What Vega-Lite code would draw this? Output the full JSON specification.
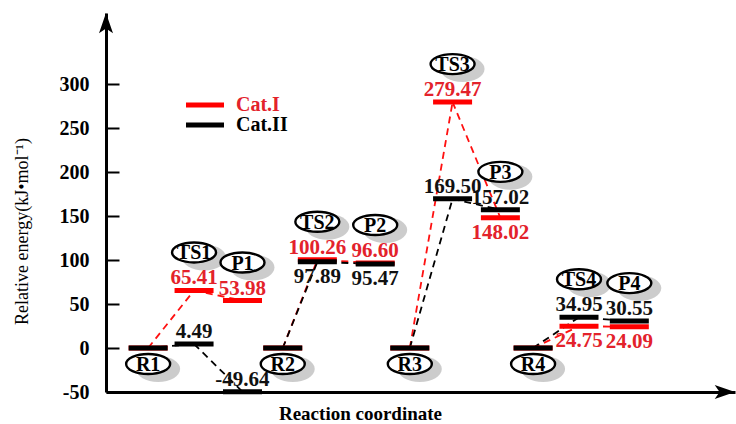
{
  "$schema": "https://vega.github.io/schema/vega-lite/v6.json",
  "width": 629,
  "height": 379,
  "autosize": "none",
  "padding": {"left": 106, "top": 13, "right": 1, "bottom": 32},
  "background": "white",
  "config": {
    "view": {"stroke": null},
    "font": "Liberation Serif",
    "locale": {
      "number": {"decimal": ".", "thousands": ",", "grouping": [3], "currency": ["$", ""], "minus": "-"}
    }
  },
  "datasets": {
    "levels": [
      {"id": "I-R1", "state": "R1", "series": "Cat.I", "pos": 6.7, "energy": 0, "place": "none"},
      {"id": "I-TS1", "state": "TS1", "series": "Cat.I", "pos": 14.0, "energy": 65.41, "place": "above"},
      {"id": "I-P1", "state": "P1", "series": "Cat.I", "pos": 21.7, "energy": 53.98, "place": "above"},
      {"id": "I-R2", "state": "R2", "series": "Cat.I", "pos": 28.1, "energy": 0, "place": "none"},
      {"id": "I-TS2", "state": "TS2", "series": "Cat.I", "pos": 33.6, "energy": 100.26, "place": "above"},
      {"id": "I-P2", "state": "P2", "series": "Cat.I", "pos": 42.8, "energy": 96.60, "place": "above"},
      {"id": "I-R3", "state": "R3", "series": "Cat.I", "pos": 48.3, "energy": 0, "place": "none"},
      {"id": "I-TS3", "state": "TS3", "series": "Cat.I", "pos": 55.1, "energy": 279.47, "place": "above"},
      {"id": "I-P3", "state": "P3", "series": "Cat.I", "pos": 62.7, "energy": 148.02, "place": "below"},
      {"id": "I-R4", "state": "R4", "series": "Cat.I", "pos": 67.9, "energy": 0, "place": "none"},
      {"id": "I-TS4", "state": "TS4", "series": "Cat.I", "pos": 75.2, "energy": 24.75, "place": "below"},
      {"id": "I-P4", "state": "P4", "series": "Cat.I", "pos": 83.2, "energy": 24.09, "place": "below"},
      {"id": "II-R1", "state": "R1", "series": "Cat.II", "pos": 6.7, "energy": 0, "place": "none"},
      {"id": "II-TS1", "state": "TS1", "series": "Cat.II", "pos": 14.0, "energy": 4.49, "place": "above"},
      {"id": "II-P1", "state": "P1", "series": "Cat.II", "pos": 21.7, "energy": -49.64, "place": "above"},
      {"id": "II-R2", "state": "R2", "series": "Cat.II", "pos": 28.1, "energy": 0, "place": "none"},
      {"id": "II-TS2", "state": "TS2", "series": "Cat.II", "pos": 33.6, "energy": 97.89, "place": "below"},
      {"id": "II-P2", "state": "P2", "series": "Cat.II", "pos": 42.8, "energy": 95.47, "place": "below"},
      {"id": "II-R3", "state": "R3", "series": "Cat.II", "pos": 48.3, "energy": 0, "place": "none"},
      {"id": "II-TS3", "state": "TS3", "series": "Cat.II", "pos": 55.1, "energy": 169.50, "place": "above"},
      {"id": "II-P3", "state": "P3", "series": "Cat.II", "pos": 62.7, "energy": 157.02, "place": "above"},
      {"id": "II-R4", "state": "R4", "series": "Cat.II", "pos": 67.9, "energy": 0, "place": "none"},
      {"id": "II-TS4", "state": "TS4", "series": "Cat.II", "pos": 75.2, "energy": 34.95, "place": "above"},
      {"id": "II-P4", "state": "P4", "series": "Cat.II", "pos": 83.2, "energy": 30.55, "place": "above"}
    ],
    "links": [
      {"series": "Cat.I", "from": "I-R1", "to": "I-TS1"},
      {"series": "Cat.I", "from": "I-TS1", "to": "I-P1"},
      {"series": "Cat.I", "from": "I-R2", "to": "I-TS2"},
      {"series": "Cat.I", "from": "I-TS2", "to": "I-P2"},
      {"series": "Cat.I", "from": "I-R3", "to": "I-TS3"},
      {"series": "Cat.I", "from": "I-TS3", "to": "I-P3"},
      {"series": "Cat.I", "from": "I-R4", "to": "I-TS4"},
      {"series": "Cat.I", "from": "I-TS4", "to": "I-P4"},
      {"series": "Cat.II", "from": "II-R1", "to": "II-TS1"},
      {"series": "Cat.II", "from": "II-TS1", "to": "II-P1"},
      {"series": "Cat.II", "from": "II-R2", "to": "II-TS2"},
      {"series": "Cat.II", "from": "II-TS2", "to": "II-P2"},
      {"series": "Cat.II", "from": "II-R3", "to": "II-TS3"},
      {"series": "Cat.II", "from": "II-TS3", "to": "II-P3"},
      {"series": "Cat.II", "from": "II-R4", "to": "II-TS4"},
      {"series": "Cat.II", "from": "II-TS4", "to": "II-P4"}
    ]
  },
  "layer": [
    {
      "data": {"name": "links"},
      "transform": [
        {"lookup": "from", "from": {"data": {"name": "levels"}, "key": "id", "fields": ["pos", "energy"]}, "as": ["x_from", "y_from"]},
        {"lookup": "to", "from": {"data": {"name": "levels"}, "key": "id", "fields": ["pos", "energy"]}, "as": ["x_to", "y_to"]}
      ],
      "mark": {"type": "rule", "strokeDash": [7, 5], "strokeWidth": 1.8},
      "encoding": {
        "x": {
          "field": "x_from", "type": "quantitative",
          "scale": {"domain": [0, 100], "nice": false, "zero": false},
          "axis": {
            "labels": false, "ticks": false, "grid": false,
            "domainColor": "black", "domainWidth": 3,
            "title": "Reaction coordinate",
            "titleFont": "Liberation Serif", "titleFontSize": 19, "titleFontWeight": "bold",
            "titleColor": "black", "titleX": 254, "titleY": 21, "titleBaseline": "middle", "titleAlign": "center"
          }
        },
        "x2": {"field": "x_to"},
        "y": {
          "field": "y_from", "type": "quantitative",
          "scale": {"domain": [-50, 380.7], "nice": false, "zero": false},
          "axis": {
            "values": [-50, 0, 50, 100, 150, 200, 250, 300],
            "grid": false,
            "domainColor": "black", "domainWidth": 3,
            "tickColor": "black", "tickWidth": 2, "tickSize": -13,
            "labelPadding": 30,
            "labelFont": "Liberation Serif", "labelFontSize": 20, "labelFontWeight": "bold", "labelColor": "black",
            "title": "Relative energy(kJ•mol⁻¹)",
            "titleFont": "Liberation Serif", "titleFontSize": 18, "titleFontWeight": "normal", "titleColor": "black",
            "titleX": -84, "titleY": 218, "titleAngle": -90, "titleAlign": "center", "titleBaseline": "middle"
          }
        },
        "y2": {"field": "y_to"},
        "stroke": {
          "condition": {"test": "datum.series === 'Cat.I'", "value": "#ff1010"},
          "value": "#000000"
        }
      }
    },
    {
      "data": {"name": "levels"},
      "mark": {"type": "tick", "orient": "horizontal", "size": 39, "thickness": 5, "opacity": 1},
      "encoding": {
        "x": {"field": "pos", "type": "quantitative"},
        "y": {"field": "energy", "type": "quantitative"},
        "color": {
          "field": "series", "type": "nominal",
          "scale": {"domain": ["Cat.I", "Cat.II"], "range": ["#ff0000", "#000000"]},
          "legend": {
            "orient": "none", "legendX": 89, "legendY": 82, "title": null, "padding": 0,
            "symbolType": "M-2.375,-0.3125H2.375V0.3125H-2.375Z", "symbolSize": 256, "symbolStrokeWidth": 0,
            "symbolOpacity": 1,
            "labelFont": "Liberation Serif", "labelFontSize": 20, "labelFontWeight": "bold",
            "labelOffset": 21, "rowPadding": -4,
            "encode": {"labels": {"update": {"fill": {"signal": "datum.value === 'Cat.I' ? '#e3222b' : '#000000'"}}}}
          }
        }
      }
    },
    {
      "data": {"name": "levels"},
      "transform": [
        {"aggregate": [{"op": "max", "field": "energy", "as": "top"}], "groupby": ["state", "pos"]}
      ],
      "mark": {"type": "point", "filled": true, "size": 1936, "fill": "#c6c6c6", "strokeWidth": 0, "opacity": 0.9},
      "encoding": {
        "x": {"field": "pos", "type": "quantitative"},
        "y": {"field": "top", "type": "quantitative"},
        "shape": {
          "condition": {"test": "test(/^R/, datum.state)", "value": "M-0.5455,0.9545A1,0.59,0,1,0,1.4545,0.9545A1,0.59,0,1,0,-0.5455,0.9545Z"},
          "value": "M-0.5455,-1.5A1,0.59,0,1,0,1.4545,-1.5A1,0.59,0,1,0,-0.5455,-1.5Z"
        }
      }
    },
    {
      "data": {"name": "levels"},
      "transform": [
        {"aggregate": [{"op": "max", "field": "energy", "as": "top"}], "groupby": ["state", "pos"]}
      ],
      "mark": {"type": "point", "filled": false, "size": 1936, "fill": "white", "fillOpacity": 1, "stroke": "black", "strokeWidth": 2.4, "opacity": 1},
      "encoding": {
        "x": {"field": "pos", "type": "quantitative"},
        "y": {"field": "top", "type": "quantitative"},
        "shape": {
          "condition": {"test": "test(/^R/, datum.state)", "value": "M-1,0.7273A1,0.4545,0,1,0,1,0.7273A1,0.4545,0,1,0,-1,0.7273Z"},
          "value": "M-1,-1.7273A1,0.4545,0,1,0,1,-1.7273A1,0.4545,0,1,0,-1,-1.7273Z"
        }
      }
    },
    {
      "data": {"name": "levels"},
      "transform": [
        {"aggregate": [{"op": "max", "field": "energy", "as": "top"}], "groupby": ["state", "pos"]},
        {"filter": "test(/^R/, datum.state)"}
      ],
      "mark": {"type": "text", "font": "Liberation Serif", "fontSize": 20, "fontWeight": "bold", "color": "black", "baseline": "middle", "align": "center", "dy": 17},
      "encoding": {
        "x": {"field": "pos", "type": "quantitative"},
        "y": {"field": "top", "type": "quantitative"},
        "text": {"field": "state"}
      }
    },
    {
      "data": {"name": "levels"},
      "transform": [
        {"aggregate": [{"op": "max", "field": "energy", "as": "top"}], "groupby": ["state", "pos"]},
        {"filter": "!test(/^R/, datum.state)"}
      ],
      "mark": {"type": "text", "font": "Liberation Serif", "fontSize": 20, "fontWeight": "bold", "color": "black", "baseline": "middle", "align": "center", "dy": -37},
      "encoding": {
        "x": {"field": "pos", "type": "quantitative"},
        "y": {"field": "top", "type": "quantitative"},
        "text": {"field": "state"}
      }
    },
    {
      "data": {"name": "levels"},
      "transform": [{"filter": "datum.place === 'above'"}],
      "mark": {"type": "text", "font": "Liberation Serif", "fontSize": 21, "fontWeight": "bold", "baseline": "middle", "align": "center", "dy": -12},
      "encoding": {
        "x": {"field": "pos", "type": "quantitative"},
        "y": {"field": "energy", "type": "quantitative"},
        "text": {"field": "energy", "type": "quantitative", "format": ".2f"},
        "fill": {
          "condition": {"test": "datum.series === 'Cat.I'", "value": "#e3222b"},
          "value": "#111111"
        }
      }
    },
    {
      "data": {"name": "levels"},
      "transform": [{"filter": "datum.place === 'below'"}],
      "mark": {"type": "text", "font": "Liberation Serif", "fontSize": 21, "fontWeight": "bold", "baseline": "middle", "align": "center", "dy": 15},
      "encoding": {
        "x": {"field": "pos", "type": "quantitative"},
        "y": {"field": "energy", "type": "quantitative"},
        "text": {"field": "energy", "type": "quantitative", "format": ".2f"},
        "fill": {
          "condition": {"test": "datum.series === 'Cat.I'", "value": "#e3222b"},
          "value": "#111111"
        }
      }
    },
    {
      "data": {"values": [{}]},
      "mark": {"type": "point", "filled": true, "color": "black", "size": 196, "opacity": 1,
               "shape": "M0,0L-1,2.9L0,2.2L1,2.9Z"},
      "encoding": {
        "x": {"datum": 0, "type": "quantitative"},
        "y": {"datum": 380.7, "type": "quantitative"}
      }
    },
    {
      "data": {"values": [{}]},
      "mark": {"type": "point", "filled": true, "color": "black", "size": 196, "opacity": 1,
               "shape": "M0,0L-2.9,-1L-2.2,0L-2.9,1Z"},
      "encoding": {
        "x": {"datum": 100, "type": "quantitative"},
        "y": {"datum": -50, "type": "quantitative"}
      }
    }
  ]
}
